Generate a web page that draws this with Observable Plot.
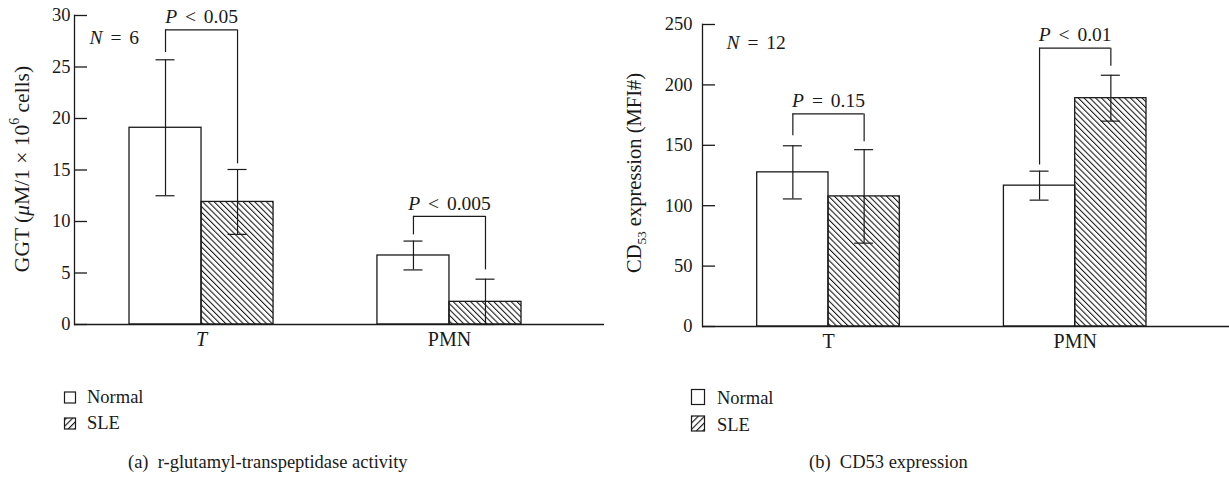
<!DOCTYPE html>
<html>
<head>
<meta charset="utf-8">
<script src="https://cdn.jsdelivr.net/npm/d3@7"></script>
<script src="https://cdn.jsdelivr.net/npm/@observablehq/plot@0.6"></script>
<style>
  body { margin: 0; background: #fff; }
  #root { position: relative; width: 1229px; height: 477px; background: #fff; font-family: "Liberation Serif", "DejaVu Serif", serif; color: #1a1a1a; }
  .panel { position: absolute; top: 0; }
  #overlay { position: absolute; left: 0; top: 0; }
</style>
</head>
<body>
<div id="root">
  <div class="panel" id="pa" style="left:0px"></div>
  <div class="panel" id="pb" style="left:620px"></div>
  <svg id="overlay" width="1229" height="477"></svg>
</div>
<script>
// ---------------- data ----------------
const categories = ["T", "PMN"];
const seriesNames = ["Normal", "SLE"];

// (a) GGT activity (µM / 1e6 cells)
const ggtNormal = [19.1, 6.7];
const ggtNormalErr = [6.6, 1.4];
const ggtSLE = [11.9, 2.2];
const ggtSLEErr = [3.15, 2.2];
const ggtBracketTop = [28.6, 10.5];
const ggtBracketNormal = [26.4, 8.7];
const ggtBracketSLE = [15.6, 5.3];
const ggtP = ["P < 0.05", "P < 0.005"];
const ggtTicks = [0, 5, 10, 15, 20, 25, 30];

// (b) CD53 expression (MFI)
const cd53Normal = [127.6, 116.6];
const cd53NormalErr = [22, 12];
const cd53SLE = [107.7, 189];
const cd53SLEErr = [38.7, 19];
const cd53BracketTop = [176, 230.4];
const cd53BracketNormal = [158, 133.7];
const cd53BracketSLE = [153, 215.5];
const cd53P = ["P = 0.15", "P < 0.01"];
const cd53Ticks = [0, 50, 100, 150, 200, 250];

const INK = "#1a1a1a";
const FONT = "Liberation Serif, DejaVu Serif, serif";

function makeRows(means, errs) {
  return categories.map((c, i) => ({cat: c, mean: means[i], lo: means[i] - errs[i], hi: means[i] + errs[i]}));
}
function makeBrackets(top, nl, sl, p) {
  return categories.map((c, i) => ({cat: c, top: top[i], nl: nl[i], sl: sl[i], p: p[i]}));
}

function panel(cfg) {
  const {width, height, mL, mR, mT, mB, xRange, padIn, yDomain, yTicks, tickPad,
         normal, sle, brackets, nLabel, nDx, nDy, italicT} = cfg;
  const bw = (xRange[1] - xRange[0]) * (1 - padIn) / (2 - padIn);
  const fw = width - mL - mR;
  const cap = 9.5;
  const sw = 1.3;
  const plot = Plot.plot({
    width, height,
    marginLeft: mL, marginRight: mR, marginTop: mT, marginBottom: mB,
    style: {fontFamily: FONT, fontSize: "17px", color: INK, background: "transparent", overflow: "visible"},
    x: {domain: categories, range: xRange, paddingInner: padIn, paddingOuter: 0, round: false, axis: null},
    y: {domain: yDomain, axis: null},
    marks: [
      Plot.barY(normal, {x: "cat", y: "mean", insetRight: bw / 2, fill: "white", stroke: INK, strokeWidth: sw}),
      Plot.barY(sle, {x: "cat", y: "mean", insetLeft: bw / 2, fill: "url(#hatchBar)", stroke: INK, strokeWidth: sw}),
      Plot.ruleY([0], {stroke: INK, strokeWidth: sw}),
      Plot.frame({anchor: "left", stroke: INK, strokeWidth: sw}),
      Plot.tickY(yTicks, {y: d => d, insetRight: fw - 13, stroke: INK, strokeWidth: sw}),
      Plot.axisY({ticks: yTicks, tickSize: 0, tickPadding: tickPad, fontSize: 18.5, fill: INK}),
      // error bars
      Plot.ruleX(normal, {x: "cat", y1: "lo", y2: "hi", dx: -bw / 4, stroke: INK, strokeWidth: 1.2}),
      Plot.ruleX(sle, {x: "cat", y1: "lo", y2: "hi", dx: bw / 4, stroke: INK, strokeWidth: 1.2}),
      Plot.tickY(normal, {x: "cat", y: "hi", insetLeft: bw / 4 - cap, insetRight: 3 * bw / 4 - cap, stroke: INK, strokeWidth: 1.2}),
      Plot.tickY(normal, {x: "cat", y: "lo", insetLeft: bw / 4 - cap, insetRight: 3 * bw / 4 - cap, stroke: INK, strokeWidth: 1.2}),
      Plot.tickY(sle, {x: "cat", y: "hi", insetLeft: 3 * bw / 4 - cap, insetRight: bw / 4 - cap, stroke: INK, strokeWidth: 1.2}),
      Plot.tickY(sle, {x: "cat", y: "lo", insetLeft: 3 * bw / 4 - cap, insetRight: bw / 4 - cap, stroke: INK, strokeWidth: 1.2}),
      // significance brackets
      Plot.tickY(brackets, {x: "cat", y: "top", insetLeft: bw / 4, insetRight: bw / 4, stroke: INK, strokeWidth: 1.2}),
      Plot.ruleX(brackets, {x: "cat", y1: "nl", y2: "top", dx: -bw / 4, stroke: INK, strokeWidth: 1.2}),
      Plot.ruleX(brackets, {x: "cat", y1: "sl", y2: "top", dx: bw / 4, stroke: INK, strokeWidth: 1.2}),
      Plot.text(brackets, {x: "cat", y: "top", text: "p", dy: -13, fontSize: 19.5, fill: INK}),
      // category labels
      Plot.text(categories.filter(c => c === "T"), {x: d => d, text: d => d, frameAnchor: "bottom", lineAnchor: "top", dy: 7, fontSize: 20, fontStyle: italicT ? "italic" : "normal", fill: INK}),
      Plot.text(categories.filter(c => c !== "T"), {x: d => d, text: d => d, frameAnchor: "bottom", lineAnchor: "top", dy: 7, fontSize: 20, fill: INK}),
      // N label
      Plot.text([nLabel], {text: d => d, frameAnchor: "top-left", textAnchor: "start", dx: nDx, dy: nDy, fontSize: 19.5, fill: INK})
    ]
  });
  // italic leading variable letter (P, N)
  d3.select(plot).selectAll("text").each(function () {
    const t = this.textContent;
    const m = /^([PN])( .*)$/.exec(t);
    if (m && this.childElementCount === 0) {
      this.textContent = "";
      const s = d3.select(this).style("word-spacing", "3px");
      s.append("tspan").attr("font-style", "italic").text(m[1]);
      s.append("tspan").text(m[2]);
    }
  });
  return plot;
}

const plotA = panel({
  width: 614, height: 354, mL: 74, mR: 10, mT: 15, mB: 30,
  xRange: [129, 521], padIn: 0.419, yDomain: [0, 30], yTicks: ggtTicks, tickPad: 4,
  normal: makeRows(ggtNormal, ggtNormalErr), sle: makeRows(ggtSLE, ggtSLEErr),
  brackets: makeBrackets(ggtBracketTop, ggtBracketNormal, ggtBracketSLE, ggtP),
  nLabel: "N = 6", nDx: 15, nDy: 15, italicT: true
});
const plotB = panel({
  width: 609, height: 356, mL: 82, mR: 0, mT: 24, mB: 30,
  xRange: [136.7, 526], padIn: 0.422, yDomain: [0, 250], yTicks: cd53Ticks, tickPad: 10,
  normal: makeRows(cd53Normal, cd53NormalErr), sle: makeRows(cd53SLE, cd53SLEErr),
  brackets: makeBrackets(cd53BracketTop, cd53BracketNormal, cd53BracketSLE, cd53P),
  nLabel: "N = 12", nDx: 24, nDy: 11, italicT: false
});

// y-axis titles with rich text
function yTitle(plot, x, y, size, ws, parts) {
  const t = d3.select(plot).append("text")
    .attr("transform", `translate(${x},${y}) rotate(-90)`)
    .attr("text-anchor", "middle").attr("dominant-baseline", "central")
    .attr("font-size", size).attr("fill", INK).attr("font-family", FONT)
    .style("word-spacing", ws + "px");
  parts.forEach(p => {
    const ts = t.append("tspan").text(p.t);
    if (p.i) ts.attr("font-style", "italic");
    if (p.sup) ts.attr("font-size", size * 0.65).attr("baseline-shift", "super");
    if (p.sub) ts.attr("font-size", size * 0.65).attr("baseline-shift", "sub");
  });
}
yTitle(plotA, 22, 169, 21.5, 0, [{t: "GGT ("}, {t: "\u03bc", i: true}, {t: "M/1 \u00d7 10"}, {t: "6", sup: true}, {t: " cells)"}]);
yTitle(plotB, 14, 173, 20.5, 0, [{t: "CD"}, {t: "53", sub: true}, {t: " expression (MFI#)"}]);

document.getElementById("pa").appendChild(plotA);
document.getElementById("pb").appendChild(plotB);

// legends, captions, patterns
const ov = d3.select("#overlay");
const defs = ov.append("defs");
defs.append("pattern").attr("id", "hatchBar").attr("patternUnits", "userSpaceOnUse")
  .attr("width", 4.1).attr("height", 4.1).attr("patternTransform", "rotate(-45)")
  .append("line").attr("x1", 0.5).attr("y1", -1).attr("x2", 0.5).attr("y2", 5.1)
  .attr("stroke", INK).attr("stroke-width", 1.15);
defs.append("pattern").attr("id", "hatchLegend").attr("patternUnits", "userSpaceOnUse")
  .attr("width", 4.5).attr("height", 4.5).attr("patternTransform", "rotate(45)")
  .append("line").attr("x1", 0.5).attr("y1", -1).attr("x2", 0.5).attr("y2", 6)
  .attr("stroke", INK).attr("stroke-width", 1.3);

function legend(x, y0, sqW, sqH, textX, base0, gap) {
  const g = ov.append("g").attr("font-family", FONT).attr("font-size", 18.5).attr("fill", INK);
  seriesNames.forEach((s, i) => {
    g.append("rect").attr("x", x).attr("y", y0 + i * gap).attr("width", sqW).attr("height", sqH)
      .attr("fill", s === "SLE" ? "url(#hatchLegend)" : "white").attr("stroke", INK).attr("stroke-width", 1.2);
    g.append("text").attr("x", textX).attr("y", base0 + i * gap).text(s);
  });
}
legend(64.5, 392, 11, 11, 87, 403, 26);
legend(691.5, 389.5, 13, 15, 717, 404, 26.5);

ov.append("text").attr("x", 128).attr("y", 468).attr("font-family", FONT).attr("font-size", 18.5).attr("fill", INK)
  .style("white-space", "pre").text("(a)  r-glutamyl-transpeptidase activity");
ov.append("text").attr("x", 809).attr("y", 468).attr("font-family", FONT).attr("font-size", 18.5).attr("fill", INK)
  .style("white-space", "pre").text("(b)  CD53 expression");
</script>
</body>
</html>
